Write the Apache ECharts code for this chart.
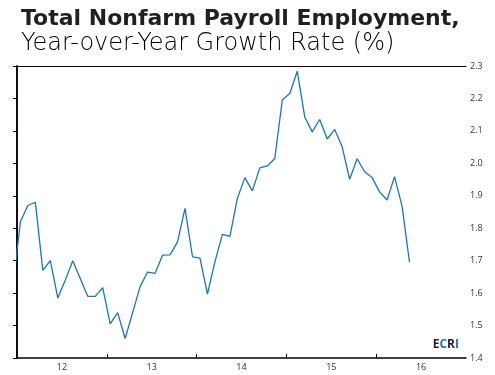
<!DOCTYPE html>
<html>
<head>
<meta charset="utf-8">
<script src="https://cdn.jsdelivr.net/npm/echarts@6/dist/echarts.min.js"></script>
<style>
html,body{margin:0;padding:0;background:#fff;}
#chart{width:495px;height:375px;}
</style>
</head>
<body>
<div id="chart"></div>
<script>
// monthly yoy growth, first point is Dec 2011 (clipped at left edge)
var firstMonth = -1;
var growth = [1.62, 1.82, 1.87, 1.88, 1.67, 1.70, 1.585, 1.64, 1.70, 1.645, 1.59, 1.59,
	1.617, 1.505, 1.54, 1.46, 1.54, 1.62, 1.665, 1.661, 1.717, 1.718, 1.758, 1.861,
	1.712, 1.708, 1.597, 1.697, 1.781, 1.775, 1.892, 1.956, 1.915, 1.986, 1.992, 2.015,
	2.195, 2.215, 2.284, 2.143, 2.097, 2.135, 2.075, 2.104, 2.051, 1.951, 2.014, 1.974,
	1.956, 1.912, 1.887, 1.959, 1.868, 1.695];
var yearTicks = [12, 24, 36, 48];
var yearLabelPos = [6, 18, 30, 42, 54];
var yearLabels = ['12', '13', '14', '15', '16'];

var points = [];
for (var i = 0; i < growth.length; i++) {
	points.push([firstMonth + i + 0.45, growth[i]]);
}

var chart = echarts.init(document.getElementById('chart'));
var option = {
	animation: false,
	title: [{
		text: 'Total Nonfarm Payroll Employment,',
		left: 16, top: 3,
		textStyle: {fontFamily: 'DejaVu Sans', fontWeight: 'bold', fontSize: 22, color: '#231f20'}
	}, {
		text: 'Year-over-Year Growth Rate (%)',
		left: 16, top: 27,
		textStyle: {fontFamily: 'DejaVu Sans', fontWeight: 200, fontSize: 24, color: '#000'}
	}],
	graphic: [{
		type: 'text',
		right: 36, bottom: 24,
		style: {
			text: '{d|E}{b|C}{d|R}{b|I}',
			rich: {
				d: {fontFamily: 'Open Sans', fontWeight: 'bold', fontSize: 12, fill: '#231f20'},
				b: {fontFamily: 'Open Sans', fontWeight: 'bold', fontSize: 12, fill: '#1e73be'}
			}
		}
	}],
	grid: {left: 17, right: 29, top: 66, bottom: 17},
	xAxis: [{
		type: 'value', min: 0, max: 60,
		axisLine: {show: true, lineStyle: {color: '#000', width: 1.5}},
		axisTick: {show: true, inside: true, length: 4, customValues: yearTicks, lineStyle: {color: '#000'}},
		axisLabel: {
			customValues: yearLabelPos,
			formatter: function(v){ return yearLabels[yearLabelPos.indexOf(v)]; },
			fontFamily: 'Open Sans', fontSize: 9, color: '#333', margin: 5
		},
		splitLine: {show: false}
	}, {
		// top border only
		type: 'value', position: 'top', min: 0, max: 60,
		axisLine: {show: true, lineStyle: {color: '#000', width: 1}},
		axisTick: {show: false}, axisLabel: {show: false}, splitLine: {show: false}
	}],
	yAxis: [{
		type: 'value', position: 'right', min: 1.4, max: 2.3, interval: 0.1,
		axisLine: {show: true, lineStyle: {color: '#000', width: 1.5}},
		axisTick: {show: true, inside: true, length: 4, lineStyle: {color: '#000'}},
		axisLabel: {
			formatter: function(v){ return v.toFixed(1); },
			fontFamily: 'Open Sans', fontSize: 9, color: '#333', margin: 4
		},
		splitLine: {show: false}
	}, {
		// left border only
		type: 'value', position: 'left', min: 1.4, max: 2.3,
		axisLine: {show: true, lineStyle: {color: '#000', width: 1.5}},
		axisTick: {show: false}, axisLabel: {show: false}, splitLine: {show: false}
	}],
	series: [{
		type: 'line',
		data: points,
		symbol: 'none',
		clip: true,
		lineStyle: {color: '#1b75bc', width: 1.3}
	}]
};
chart.setOption(option);
</script>
</body>
</html>
